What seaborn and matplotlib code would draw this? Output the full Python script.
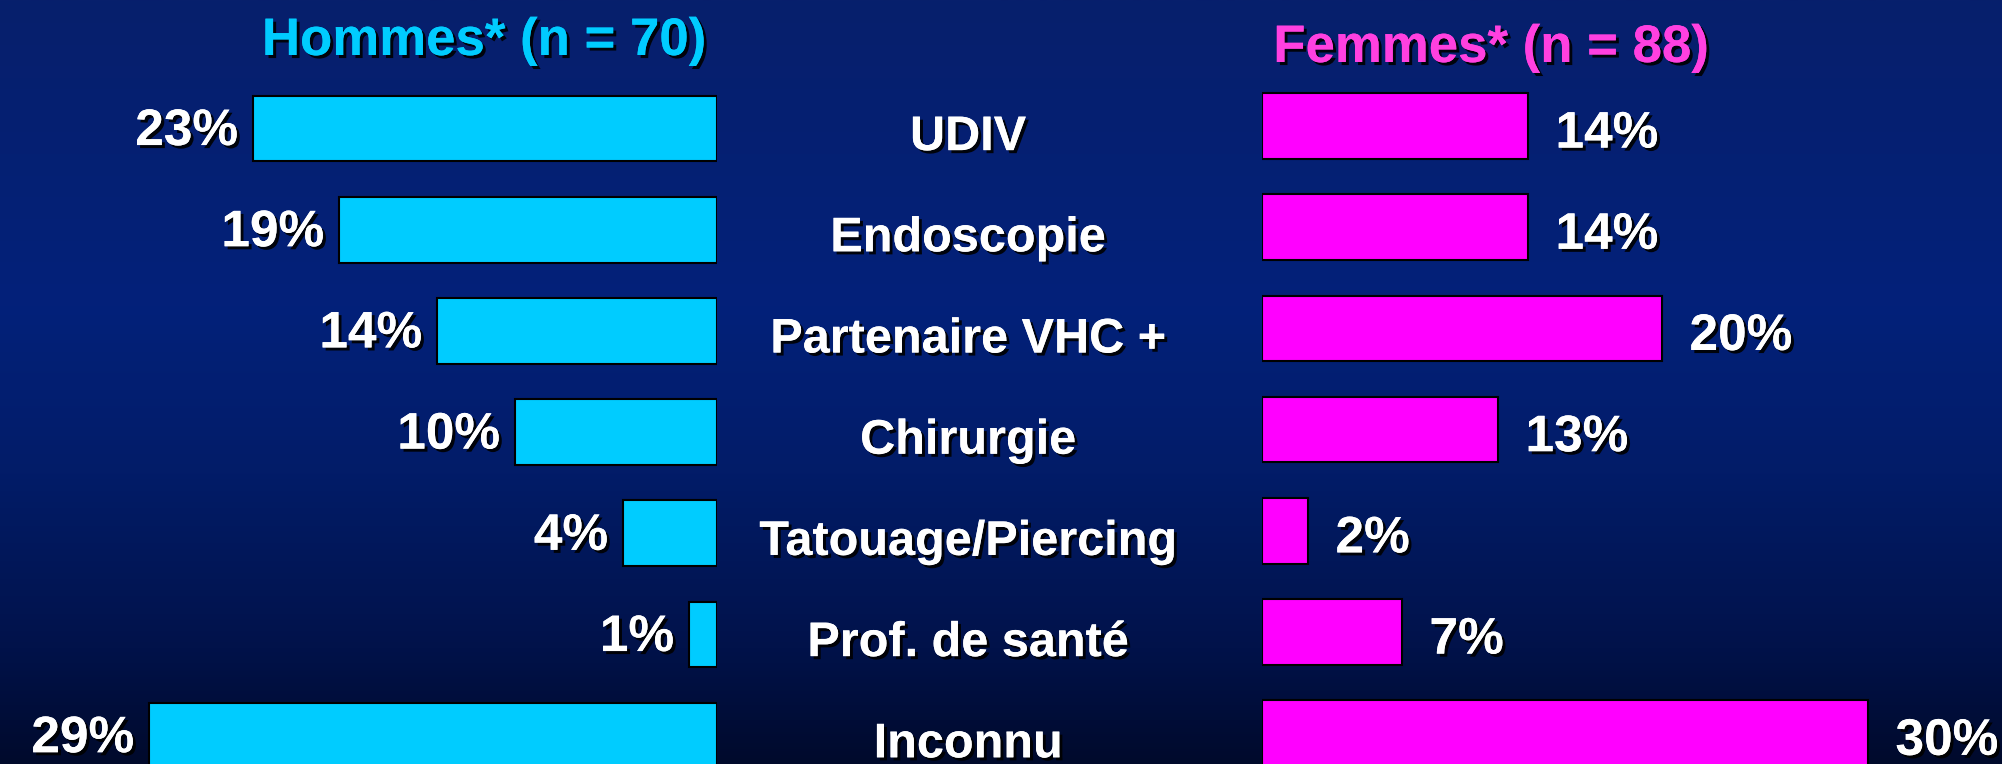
import numpy as np
import pandas as pd
import seaborn as sns
import matplotlib
matplotlib.use("Agg")
from matplotlib import pyplot as plt
from matplotlib import patheffects as pe
from matplotlib import transforms
from matplotlib.colors import LinearSegmentedColormap

# data
causes = ["UDIV", "Endoscopie", "Partenaire VHC +", "Chirurgie",
          "Tatouage/Piercing", "Prof. de santé", "Inconnu"]
hommes = [23.2, 18.9, 14.0, 10.1, 4.7, 1.4, 28.4]
femmes = [13.3, 13.3, 20.0, 11.8, 2.3, 7.0, 30.3]
hommes_labels = ["23%", "19%", "14%", "10%", "4%", "1%", "29%"]
femmes_labels = ["14%", "14%", "20%", "13%", "2%", "7%", "30%"]
title_h = "Hommes* (n = 70)"
title_f = "Femmes* (n = 88)"

df = pd.DataFrame({"cause": causes, "hommes": hommes, "femmes": femmes})

sns.set_style("white")
plt.rcParams["font.family"] = ["Liberation Sans", "DejaVu Sans"]
plt.rcParams["font.weight"] = "bold"

W, H = 2002, 764
fig = plt.figure(figsize=(W / 100, H / 100), dpi=100)

# background gradient
bg = fig.add_axes([0, 0, 1, 1])
cmap = LinearSegmentedColormap.from_list(
    "bg", [(0.0, "#071f6c"), (0.4, "#03217a"), (0.62, "#021c68"),
           (0.85, "#01124a"), (1.0, "#000a2c")])
bg.imshow(np.linspace(0, 1, 256).reshape(-1, 1), aspect="auto", cmap=cmap,
          extent=[0, 1, 0, 1], origin="upper")
bg.set_axis_off()

shadow = [pe.withSimplePatchShadow(offset=(2.2, -2.2), shadow_rgbFace="black", alpha=0.9),
          pe.Normal()]

px = 20.0  # pixels per percent
row = 101.2
bar_w = 0.65

# left panel (hommes), bars grow to the left
axL = fig.add_axes([0, 0, 717 / W, 1])
sns.barplot(data=df, y="cause", x="hommes", orient="h", color="#00ccff",
            saturation=1, width=bar_w, edgecolor="black", linewidth=1.5, ax=axL)
axL.set_xlim(717 / px, 0)
axL.set_ylim((H - 128.5) / row, -128.5 / row)

# right panel (femmes)
axR = fig.add_axes([1261.5 / W, 0, (W - 1261.5) / W, 1])
sns.barplot(data=df, y="cause", x="femmes", orient="h", color="#ff00ff",
            saturation=1, width=bar_w, edgecolor="black", linewidth=1.5, ax=axR)
axR.set_xlim(0, (W - 1261.5) / px)
axR.set_ylim((H - 126) / row, -126 / row)

for ax in (axL, axR):
    ax.set_axis_off()
    ax.patch.set_alpha(0)

for i, (v, lab) in enumerate(zip(hommes, hommes_labels)):
    axL.text(v + 0.75, i + 0.03, lab, ha="right", va="center", fontsize=37,
             color="white", fontweight="bold", path_effects=shadow)

for i, (v, lab) in enumerate(zip(femmes, femmes_labels)):
    axR.text(v + 1.4, i + 0.08, lab, ha="left", va="center", fontsize=37,
             color="white", fontweight="bold", path_effects=shadow)

# category names in the middle
trans = transforms.blended_transform_factory(fig.transFigure, axL.transData)
for i, c in enumerate(causes):
    axL.text(968 / W, i + 0.09, c, transform=trans, ha="center", va="center",
             fontsize=35, color="white", fontweight="bold", path_effects=shadow,
             clip_on=False)

fig.text(484 / W, 1 - 55 / H, title_h, ha="center", va="baseline", fontsize=38,
         color="#00ccff", fontweight="bold", path_effects=shadow)
fig.text(1491 / W, 1 - 62 / H, title_f, ha="center", va="baseline", fontsize=38,
         color="#ff40e0", fontweight="bold", path_effects=shadow)

fig.savefig("out.png", dpi=100)
